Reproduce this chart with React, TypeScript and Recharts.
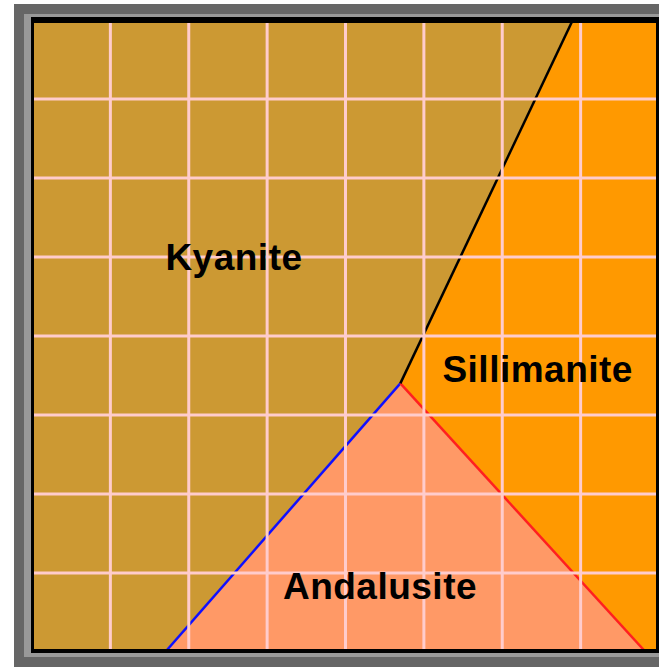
import {
  Area,
  ComposedChart,
  Line,
  ReferenceDot,
  ReferenceLine,
  XAxis,
  YAxis,
} from "recharts";

// phase boundaries, in grid units (8 x 8 cells)
const kyaniteAndalusite = [
  { x: 1.7, y: 0 },
  { x: 4.7, y: 3.4 },
];
const andalusiteSillimanite = [
  { x: 4.7, y: 3.4 },
  { x: 7.83, y: 0 },
];
const kyaniteSillimanite = [
  { x: 4.7, y: 3.4 },
  { x: 6.9, y: 8 },
];
const sillimaniteCorner = [{ x: 8, y: 8 }];

const gridTicks = [1, 2, 3, 4, 5, 6, 7];

const phaseLabels = [
  { name: "Kyanite", x: 2.577, y: 5.0 },
  { name: "Sillimanite", x: 6.452, y: 3.58 },
  { name: "Andalusite", x: 4.44, y: 0.84 },
];

const KYANITE = "#cc9933";
const SILLIMANITE = "#ff9900";
const ANDALUSITE = "#ff9966";
const GRID = "#ffcccc";

const sillimaniteArea = [...kyaniteSillimanite, ...sillimaniteCorner];
const andalusiteArea = [...kyaniteAndalusite, ...andalusiteSillimanite.slice(1)];

const box = (l: number, t: number, w: number, h: number, bg: string) => (
  <div style={{ position: "absolute", left: l, top: t, width: w, height: h, background: bg }} />
);

export default function App() {
  return (
    <div
      style={{
        position: "absolute",
        left: 0,
        top: 0,
        width: 659,
        height: 667,
        overflow: "hidden",
        background: "#fff",
      }}
    >
      {box(14, 4, 660, 663, "#666666")}
      {box(24, 14, 650, 643, "#999999")}
      <div style={{ position: "absolute", left: 32, top: 20 }}>
        <ComposedChart width={627} height={632} margin={{ top: 0, right: 0, bottom: 0, left: 0 }}>
          <XAxis type="number" dataKey="x" domain={[0, 8]} hide />
          <YAxis type="number" dataKey="y" domain={[0, 8]} hide />
          <Area
            data={[{ x: 0, y: 8 }, { x: 8, y: 8 }]}
            dataKey="y"
            type="linear"
            stroke="none"
            fill={KYANITE}
            fillOpacity={1}
            dot={false}
            activeDot={false}
            isAnimationActive={false}
          />
          <Area
            data={sillimaniteArea}
            dataKey="y"
            type="linear"
            stroke="none"
            fill={SILLIMANITE}
            fillOpacity={1}
            dot={false}
            activeDot={false}
            isAnimationActive={false}
          />
          <Area
            data={andalusiteArea}
            dataKey="y"
            type="linear"
            stroke="none"
            fill={ANDALUSITE}
            fillOpacity={1}
            dot={false}
            activeDot={false}
            isAnimationActive={false}
          />
          <Line
            data={kyaniteAndalusite}
            dataKey="y"
            type="linear"
            stroke="#1010ff"
            strokeWidth={2.5}
            dot={false}
            activeDot={false}
            isAnimationActive={false}
          />
          <Line
            data={andalusiteSillimanite}
            dataKey="y"
            type="linear"
            stroke="#ff2020"
            strokeWidth={2.5}
            dot={false}
            activeDot={false}
            isAnimationActive={false}
          />
          <Line
            data={kyaniteSillimanite}
            dataKey="y"
            type="linear"
            stroke="#000"
            strokeWidth={2.5}
            dot={false}
            activeDot={false}
            isAnimationActive={false}
          />
          {phaseLabels.map((p) => (
            <ReferenceDot
              key={p.name}
              x={p.x}
              y={p.y}
              r={0}
              fill="none"
              stroke="none"
              label={{
                value: p.name,
                position: "center",
                fill: "#000",
                fontSize: 37,
                fontWeight: "bold",
                fontFamily: "Arial, 'Liberation Sans', sans-serif",
                letterSpacing: 0.5,
              }}
            />
          ))}
          {gridTicks.map((t) => (
            <ReferenceLine key={"v" + t} x={t} stroke={GRID} strokeWidth={3} />
          ))}
          {gridTicks.map((t) => (
            <ReferenceLine key={"h" + t} y={t} stroke={GRID} strokeWidth={3} />
          ))}
        </ComposedChart>
      </div>
      {box(31, 17, 628, 6, "#000")}
      {box(31, 649, 628, 4, "#000")}
      {box(31, 17, 3, 636, "#000")}
      {box(656, 17, 3, 636, "#000")}
    </div>
  );
}
